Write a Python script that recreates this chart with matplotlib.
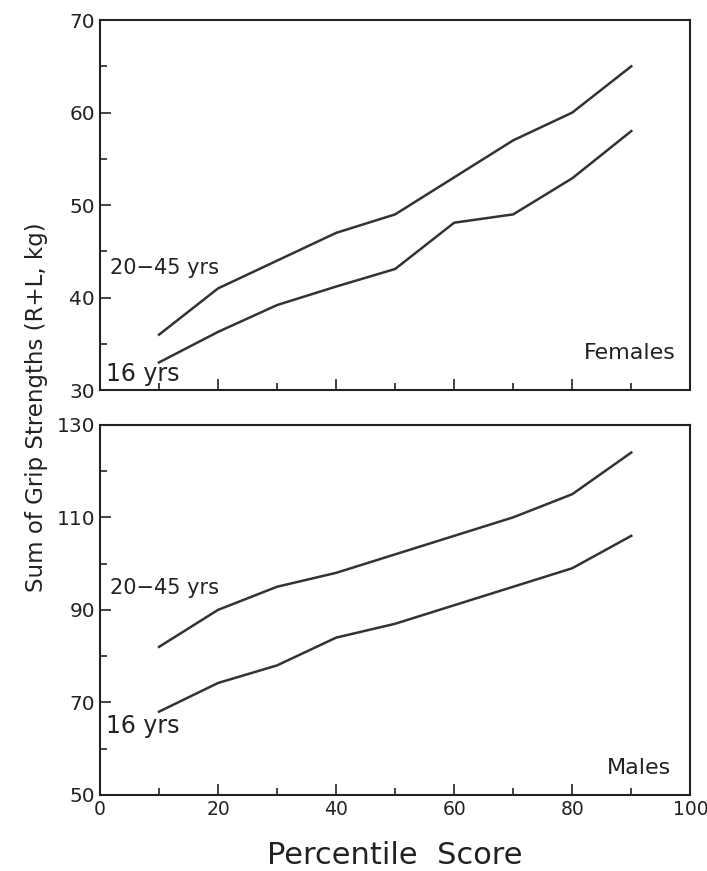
import matplotlib
matplotlib.use("Agg")
import matplotlib.pyplot as plt
from matplotlib.ticker import MultipleLocator

# percentile scores
pct = [10, 20, 30, 40, 50, 60, 70, 80, 90]

# females, sum of grip strengths (kg)
fem_adult = [36, 41, 44, 47, 49, 53, 57, 60, 65]
fem_16 = [33, 36.3, 39.2, 41.2, 43.1, 48.1, 49, 52.9, 58]

# males
male_adult = [82, 90, 95, 98, 102, 106, 110, 115, 124]
male_16 = [68, 74.2, 78, 84, 87, 91, 95, 99, 106]

fem_major = [30, 40, 50, 60, 70]
fem_minor = [35, 45, 55, 65]
male_major = [50, 70, 90, 110, 130]
male_minor = [60, 80, 100, 120]

plt.rcParams['font.family'] = ['DejaVu Sans']
line_col = '#333333'
txt_col = '#222222'

fig = plt.figure(figsize=(7.07, 8.71), dpi=100)
ax1 = fig.add_axes([0.1414, 0.552, 0.835, 0.425])
ax2 = fig.add_axes([0.1414, 0.0873, 0.835, 0.425])

def style(ax, major, minor):
    ax.set_xlim(0, 100)
    ax.set_ylim(major[0], major[-1])
    ax.xaxis.set_major_locator(MultipleLocator(20))
    ax.xaxis.set_minor_locator(MultipleLocator(10))
    ax.set_yticks(major)
    ax.set_yticks(minor, minor=True)
    ax.tick_params(which='both', direction='in', colors=txt_col, labelsize=14.5, width=1.2)
    ax.tick_params(axis='x', labelsize=13.5)
    ax.tick_params(which='major', length=8)
    ax.tick_params(which='minor', length=5)
    for s in ax.spines.values():
        s.set_linewidth(1.5)
        s.set_color(txt_col)

# Females
ax1.plot(pct, fem_adult, color=line_col, lw=1.8)
ax1.plot(pct, fem_16, color=line_col, lw=1.8)
style(ax1, fem_major, fem_minor)
ax1.tick_params(labelbottom=False)
ax1.text(1.7, 43.2, '20\u221245 yrs', fontsize=15, color=txt_col, va='center')
ax1.text(1.0, 31.8, '16 yrs', fontsize=17, color=txt_col, va='center')
ax1.text(97.5, 34, 'Females', fontsize=16, color=txt_col, ha='right', va='center')

# Males
ax2.plot(pct, male_adult, color=line_col, lw=1.8)
ax2.plot(pct, male_16, color=line_col, lw=1.8)
style(ax2, male_major, male_minor)
ax2.text(1.7, 94.8, '20\u221245 yrs', fontsize=15, color=txt_col, va='center')
ax2.text(1.0, 65, '16 yrs', fontsize=17, color=txt_col, va='center')
ax2.text(96.8, 55.8, 'Males', fontsize=16, color=txt_col, ha='right', va='center')
ax2.set_xlabel('Percentile  Score', fontsize=22, color=txt_col, labelpad=16)

fig.text(0.052, 0.533, 'Sum of Grip Strengths (R+L, kg)', rotation=90,
         fontsize=16.5, color=txt_col, ha='center', va='center')

plt.savefig('out.png', dpi=100)
